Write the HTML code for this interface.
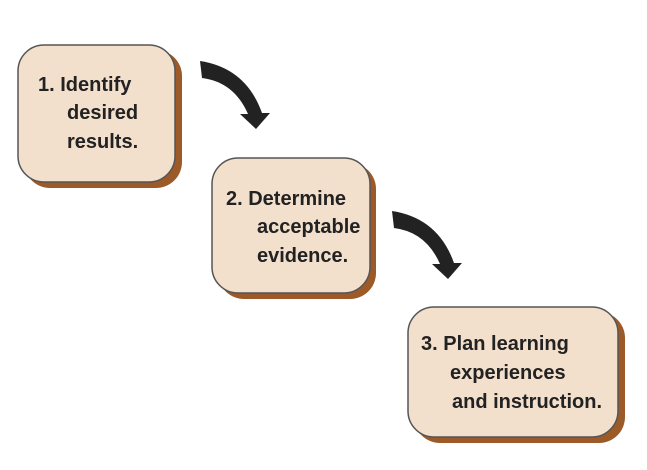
<!DOCTYPE html>
<html><head><style>
body{margin:0;width:647px;height:465px;background:#fff;overflow:hidden;font-family:"Liberation Sans",sans-serif;}
</style></head><body>
<svg width="647" height="465" viewBox="0 0 647 465" xmlns="http://www.w3.org/2000/svg">
<g>
<rect x="24" y="50" width="158" height="138" rx="26" fill="#9c5a28"/>
<rect x="18" y="45" width="157" height="137" rx="26" fill="#f2dfcc" stroke="#555" stroke-width="1.5"/>
<rect x="218" y="163" width="158" height="136" rx="26" fill="#9c5a28"/>
<rect x="212" y="158" width="158" height="135" rx="26" fill="#f2dfcc" stroke="#555" stroke-width="1.5"/>
<rect x="414" y="312" width="211" height="131" rx="26" fill="#9c5a28"/>
<rect x="408" y="307" width="210" height="130" rx="26" fill="#f2dfcc" stroke="#555" stroke-width="1.5"/>
</g>
<path d="M200,61 Q246,68 262,113 L270,113 L256,129 L240,114 L248,114 Q234,82 202,78 Z" fill="#222"/>
<path transform="translate(192,150)" d="M200,61 Q246,68 262,113 L270,113 L256,129 L240,114 L248,114 Q234,82 202,78 Z" fill="#222"/>
<g font-weight="bold" font-size="20" fill="#222">
<text x="38" y="91">1. Identify</text>
<text x="67" y="119">desired</text>
<text x="67" y="148">results.</text>
<text x="226" y="205">2. Determine</text>
<text x="257" y="233">acceptable</text>
<text x="257" y="262">evidence.</text>
<text x="421" y="350">3. Plan learning</text>
<text x="450" y="379">experiences</text>
<text x="452" y="408">and instruction.</text>
</g>
</svg>
</body></html>
